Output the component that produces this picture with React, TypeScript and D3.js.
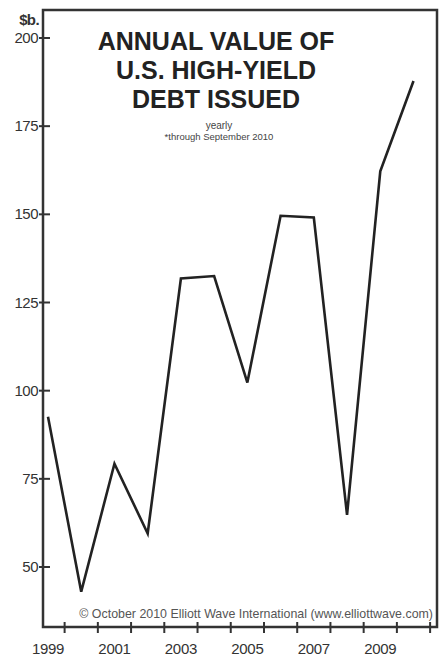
import React, { useEffect, useRef } from 'react';
import * as d3 from 'd3';

const years = [1999, 2000, 2001, 2002, 2003, 2004, 2005, 2006, 2007, 2008, 2009, 2010];
const debtIssued = [92.6, 43, 79.3, 59.5, 131.8, 132.5, 102.3, 149.6, 149.1, 64.8, 162.2, 187.8];
const yTicks = [50, 75, 100, 125, 150, 175, 200];
const xLabels = [1999, 2001, 2003, 2005, 2007, 2009];
const titleLines = ['ANNUAL VALUE OF', 'U.S. HIGH-YIELD', 'DEBT ISSUED'];

const WIDTH = 441;
const HEIGHT = 658;

const App: React.FC = () => {
  const svgRef = useRef<SVGSVGElement>(null);

  useEffect(() => {
    if (!svgRef.current) return;
    const svg = d3.select(svgRef.current);
    svg.selectAll('*').remove();

    // plot frame
    const frame = { left: 43, top: 10, right: 437, bottom: 627 };
    const font = '"Liberation Sans", Arial, Helvetica, sans-serif';

    const x = d3.scaleLinear().domain([1999, 2010]).range([48, 413.5]);
    const y = d3.scaleLinear().domain([50, 200]).range([567, 38]);

    svg.append('rect')
      .attr('width', WIDTH)
      .attr('height', HEIGHT)
      .attr('fill', '#fff');

    svg.append('rect')
      .attr('x', frame.left)
      .attr('y', frame.top)
      .attr('width', frame.right - frame.left)
      .attr('height', frame.bottom - frame.top)
      .attr('fill', 'none')
      .attr('stroke', '#333')
      .attr('stroke-width', 2.5);

    // y ticks + labels
    const yg = svg.append('g');
    yg.selectAll('line')
      .data(yTicks)
      .enter()
      .append('line')
      .attr('x1', frame.left - 4)
      .attr('x2', frame.left + 7)
      .attr('y1', d => y(d))
      .attr('y2', d => y(d))
      .attr('stroke', '#333')
      .attr('stroke-width', 2);
    yg.selectAll('text')
      .data(yTicks)
      .enter()
      .append('text')
      .attr('x', frame.left - 5)
      .attr('y', d => y(d) + 5)
      .attr('text-anchor', 'end')
      .style('font-family', font)
      .style('font-size', '15px')
      .style('letter-spacing', '-0.5px')
      .style('fill', '#333')
      .text(d => d);

    svg.append('text')
      .attr('x', 39)
      .attr('y', 25)
      .attr('text-anchor', 'end')
      .style('font-family', font)
      .style('font-size', '15px')
      .style('font-weight', 'bold')
      .style('letter-spacing', '-0.6px')
      .style('fill', '#333')
      .text('$b.');

    // x ticks at year boundaries
    const xg = svg.append('g');
    xg.selectAll('line')
      .data(years)
      .enter()
      .append('line')
      .attr('x1', d => x(d + 0.5))
      .attr('x2', d => x(d + 0.5))
      .attr('y1', frame.bottom - 5)
      .attr('y2', frame.bottom + 6)
      .attr('stroke', '#333')
      .attr('stroke-width', 2);
    xg.selectAll('text')
      .data(xLabels)
      .enter()
      .append('text')
      .attr('x', d => x(d))
      .attr('y', 654)
      .attr('text-anchor', 'middle')
      .style('font-family', font)
      .style('font-size', '15px')
      .style('letter-spacing', '-0.3px')
      .style('fill', '#333')
      .text(d => d);

    // data line
    const line = d3.line<number>()
      .x((_, i) => x(years[i]))
      .y(d => y(d));
    svg.append('path')
      .datum(debtIssued)
      .attr('d', line)
      .attr('fill', 'none')
      .attr('stroke', '#222')
      .attr('stroke-width', 2.6)
      .attr('stroke-linejoin', 'miter');

    // title
    svg.selectAll('.title')
      .data(titleLines)
      .enter()
      .append('text')
      .attr('class', 'title')
      .attr('x', 216)
      .attr('y', (_, i) => 50 + i * 29)
      .attr('text-anchor', 'middle')
      .style('font-family', font)
      .style('font-size', '25px')
      .style('font-weight', 'bold')
      .style('fill', '#222')
      .text(d => d);

    svg.append('text')
      .attr('x', 219)
      .attr('y', 129)
      .attr('text-anchor', 'middle')
      .style('font-family', font)
      .style('font-size', '10px')
      .style('fill', '#444')
      .text('yearly');
    svg.append('text')
      .attr('x', 219)
      .attr('y', 140)
      .attr('text-anchor', 'middle')
      .style('font-family', font)
      .style('font-size', '9.5px')
      .style('fill', '#444')
      .text('*through September 2010');

    svg.append('text')
      .attr('x', 433)
      .attr('y', 618)
      .attr('text-anchor', 'end')
      .style('font-family', font)
      .style('font-size', '12.4px')
      .style('fill', '#555')
      .text('\u00A9 October 2010 Elliott Wave International (www.elliottwave.com)');
  }, []);

  return (
    <svg
      ref={svgRef}
      width={WIDTH}
      height={HEIGHT}
      style={{ position: 'absolute', left: 0, top: 0, display: 'block' }}
    ></svg>
  );
};

export default App;
